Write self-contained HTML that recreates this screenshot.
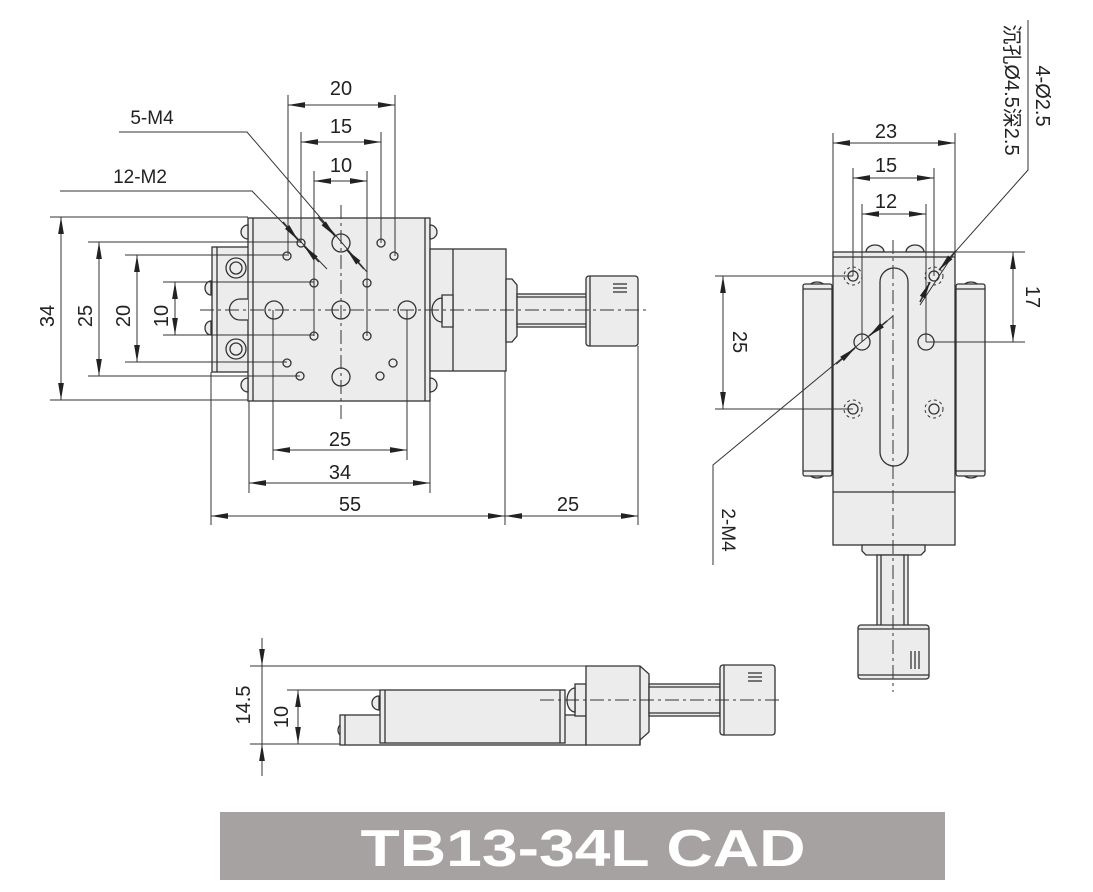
<!DOCTYPE html>
<html><head><meta charset="utf-8"><style>
html,body{margin:0;padding:0;background:#fff;}
svg{display:block;}
text{font-family:"Liberation Sans","Noto Sans CJK SC",sans-serif;fill:#222;}
</style></head><body>
<svg width="1093" height="892" viewBox="0 0 1093 892" xmlns="http://www.w3.org/2000/svg">
<defs>
<marker id="a" viewBox="0 0 16 6" refX="16" refY="3" markerWidth="17" markerHeight="7" markerUnits="userSpaceOnUse" orient="auto-start-reverse"><path d="M0,0.3 L16,3 L0,5.7 z" fill="#222"/></marker>
</defs>
<g stroke="#333" stroke-width="1.3" fill="#ececec">
<!-- ===== FRONT VIEW ===== -->
<rect x="212" y="247" width="38" height="125"/>
<line x1="217" y1="247" x2="217" y2="372" fill="none"/>
<path d="M211,281 a6,7 0 0 0 0,14 z M211,321 a6,7 0 0 0 0,14 z"/>
<rect x="248" y="218" width="182" height="183"/>
<line x1="253" y1="218" x2="253" y2="401"/><line x1="425" y1="218" x2="425" y2="401"/>
<path d="M248,225 a7,7 0 0 0 0,14 z M248,378 a7,7 0 0 0 0,14 z M430,225 a7,7 0 0 1 0,14 z M430,378 a7,7 0 0 1 0,14 z"/>
<circle cx="236" cy="268" r="10"/><circle cx="236" cy="268" r="6"/>
<circle cx="236" cy="349" r="10"/><circle cx="236" cy="349" r="6"/>
<path d="M248,299 L240,299 a10,10 0 0 0 0,21 L248,320" fill="#ececec"/>
<rect x="430" y="249" width="76" height="122"/>
<line x1="453" y1="249" x2="453" y2="371"/>
<path d="M442,295 h11 v32 h-11 z"/>
<path d="M442,298 a10,12 0 0 0 0,24 z"/>
<path d="M506,279 h6 l5,6 v51 l-5,6 h-6 z"/>
<rect x="517" y="294" width="70" height="33"/>
<line x1="517" y1="297" x2="587" y2="297"/><line x1="517" y1="324" x2="587" y2="324"/>
<rect x="586" y="276" width="52" height="70" rx="3"/>
<line x1="590" y1="276" x2="590" y2="346"/>
<line x1="613" y1="284" x2="627" y2="284" fill="none"/><line x1="613" y1="288" x2="627" y2="288" fill="none"/><line x1="613" y1="292" x2="627" y2="292" fill="none"/>
<g fill="none">
<circle cx="341" cy="243" r="9"/><circle cx="341" cy="310" r="9"/><circle cx="341" cy="377" r="9"/>
<circle cx="274" cy="310" r="9"/><circle cx="407" cy="310" r="9"/>
<circle cx="301" cy="243" r="4"/><circle cx="287" cy="256" r="4"/><circle cx="314" cy="283" r="4"/><circle cx="367" cy="283" r="4"/>
<circle cx="381" cy="243" r="4"/><circle cx="394" cy="256" r="4"/><circle cx="314" cy="336" r="4"/><circle cx="367" cy="336" r="4"/>
<circle cx="287" cy="363" r="4"/><circle cx="300" cy="376" r="4"/><circle cx="380" cy="376" r="4"/><circle cx="393" cy="363" r="4"/>
</g>
</g>
<g stroke="#333" stroke-width="1" fill="none">
<line x1="341" y1="205" x2="341" y2="420" stroke-dasharray="14,4,3,4"/>
<line x1="200" y1="310" x2="650" y2="310" stroke-dasharray="14,4,3,4"/>
<line x1="288" y1="95" x2="288" y2="256"/><line x1="395" y1="95" x2="395" y2="256"/>
<line x1="301" y1="132" x2="301" y2="243"/><line x1="381" y1="132" x2="381" y2="243"/>
<line x1="314" y1="171" x2="314" y2="336"/><line x1="367" y1="171" x2="367" y2="336"/>
<line x1="288" y1="105" x2="395" y2="105" marker-start="url(#a)" marker-end="url(#a)"/>
<line x1="301" y1="142" x2="381" y2="142" marker-start="url(#a)" marker-end="url(#a)"/>
<line x1="314" y1="181" x2="367" y2="181" marker-start="url(#a)" marker-end="url(#a)"/>
<polyline points="119,132 247,132 367,272"/>
<polyline points="60,191 252,191 327,269"/>
<line x1="318" y1="217" x2="335" y2="236" marker-end="url(#a)" stroke-width="1.6"/>
<line x1="364" y1="269" x2="347" y2="250" marker-end="url(#a)" stroke-width="1.6"/>
<line x1="283" y1="222" x2="298" y2="240" marker-end="url(#a)" stroke-width="1.6"/>
<line x1="319" y1="262" x2="304" y2="246" marker-end="url(#a)" stroke-width="1.6"/>
<line x1="50" y1="217" x2="248" y2="217"/><line x1="50" y1="400" x2="248" y2="400"/>
<line x1="88" y1="242" x2="301" y2="242"/><line x1="88" y1="376" x2="300" y2="376"/>
<line x1="125" y1="255" x2="287" y2="255"/><line x1="125" y1="362" x2="287" y2="362"/>
<line x1="163" y1="282" x2="314" y2="282"/><line x1="163" y1="335" x2="314" y2="335"/>
<line x1="61" y1="217" x2="61" y2="400" marker-start="url(#a)" marker-end="url(#a)"/>
<line x1="99" y1="242" x2="99" y2="376" marker-start="url(#a)" marker-end="url(#a)"/>
<line x1="137" y1="255" x2="137" y2="362" marker-start="url(#a)" marker-end="url(#a)"/>
<line x1="175" y1="282" x2="175" y2="335" marker-start="url(#a)" marker-end="url(#a)"/>
<line x1="273" y1="310" x2="273" y2="460"/><line x1="407" y1="310" x2="407" y2="460"/>
<line x1="249" y1="401" x2="249" y2="493"/><line x1="430" y1="401" x2="430" y2="493"/>
<line x1="211" y1="372" x2="211" y2="525"/><line x1="505" y1="371" x2="505" y2="525"/><line x1="638" y1="346" x2="638" y2="525"/>
<line x1="273" y1="450" x2="407" y2="450" marker-start="url(#a)" marker-end="url(#a)"/>
<line x1="249" y1="483" x2="430" y2="483" marker-start="url(#a)" marker-end="url(#a)"/>
<line x1="211" y1="516" x2="505" y2="516" marker-start="url(#a)" marker-end="url(#a)"/>
<line x1="505" y1="516" x2="638" y2="516" marker-start="url(#a)" marker-end="url(#a)"/>
</g>
<g font-size="20" text-anchor="middle">
<text x="341" y="95">20</text><text x="341" y="133">15</text><text x="341" y="172">10</text>
<text x="152" y="124" font-size="19">5-M4</text><text x="140" y="183" font-size="19">12-M2</text>
<text x="340" y="446">25</text><text x="340" y="479">34</text><text x="350" y="511">55</text><text x="568" y="511">25</text>
<text transform="translate(54,316) rotate(-90)">34</text>
<text transform="translate(92,316) rotate(-90)">25</text>
<text transform="translate(130,316) rotate(-90)">20</text>
<text transform="translate(168,316) rotate(-90)">10</text>
</g>

<!-- ===== RIGHT VIEW ===== -->
<g stroke="#333" stroke-width="1.3" fill="#ececec">
<path d="M866,252 a9,7 0 0 1 18,0 z M906,252 a9,7 0 0 1 18,0 z"/>
<path d="M808,289 a9,7 0 0 1 18,0 z M962,289 a9,7 0 0 1 18,0 z M808,471 a9,7 0 0 0 18,0 z M962,471 a9,7 0 0 0 18,0 z"/>
<rect x="803" y="284" width="29" height="192" rx="2"/>
<line x1="803" y1="289" x2="832" y2="289"/><line x1="803" y1="471" x2="832" y2="471"/>
<rect x="956" y="284" width="29" height="192" rx="2"/>
<line x1="956" y1="289" x2="985" y2="289"/><line x1="956" y1="471" x2="985" y2="471"/>
<rect x="833" y="252" width="122" height="293"/>
<line x1="833" y1="257" x2="955" y2="257"/>
<line x1="833" y1="492" x2="955" y2="492"/>
<rect x="880" y="268" width="28" height="198" rx="14"/>
<path d="M862,545 h63 v6 l-4,4 h-55 l-4,-4 z"/>
<rect x="877" y="555" width="31" height="71"/>
<line x1="881" y1="555" x2="881" y2="626"/><line x1="904" y1="555" x2="904" y2="626"/>
<rect x="858" y="625" width="71" height="54" rx="3"/>
<line x1="858" y1="629" x2="929" y2="629"/><line x1="858" y1="675" x2="929" y2="675"/>
<line x1="911" y1="651" x2="911" y2="669"/><line x1="915" y1="651" x2="915" y2="669"/><line x1="919" y1="651" x2="919" y2="669"/>
<g fill="none">
<circle cx="853" cy="276" r="5"/><circle cx="934" cy="276" r="5"/><circle cx="853" cy="409" r="5"/><circle cx="934" cy="409" r="5"/>
<g stroke-dasharray="3,3" stroke-width="1"><circle cx="853" cy="276" r="9"/><circle cx="934" cy="276" r="9"/><circle cx="853" cy="409" r="9"/><circle cx="934" cy="409" r="9"/></g>
<circle cx="862" cy="342" r="8"/><circle cx="926" cy="342" r="8"/>
</g>
</g>
<g stroke="#333" stroke-width="1" fill="none">
<line x1="893" y1="240" x2="893" y2="692" stroke-dasharray="14,4,3,4"/>
<line x1="833" y1="133" x2="833" y2="252"/><line x1="955" y1="133" x2="955" y2="252"/>
<line x1="853" y1="168" x2="853" y2="276"/><line x1="934" y1="168" x2="934" y2="276"/>
<line x1="862" y1="204" x2="862" y2="342"/><line x1="926" y1="204" x2="926" y2="342"/>
<line x1="833" y1="143" x2="955" y2="143" marker-start="url(#a)" marker-end="url(#a)"/>
<line x1="853" y1="178" x2="934" y2="178" marker-start="url(#a)" marker-end="url(#a)"/>
<line x1="862" y1="214" x2="926" y2="214" marker-start="url(#a)" marker-end="url(#a)"/>
<line x1="955" y1="252" x2="1025" y2="252"/><line x1="926" y1="342" x2="1025" y2="342"/>
<line x1="1013" y1="252" x2="1013" y2="342" marker-start="url(#a)" marker-end="url(#a)"/>
<line x1="715" y1="276" x2="853" y2="276"/><line x1="715" y1="409" x2="853" y2="409"/>
<line x1="723" y1="276" x2="723" y2="409" marker-start="url(#a)" marker-end="url(#a)"/>
<polyline points="713,565 713,465 893,316"/>
<polyline points="1028,20 1028,170 955,252 920,305"/>
<line x1="836" y1="364" x2="855" y2="348" marker-end="url(#a)" stroke-width="1.6"/>
<line x1="887" y1="321" x2="869" y2="336" marker-end="url(#a)" stroke-width="1.6"/>
<line x1="955" y1="252" x2="939" y2="270" marker-end="url(#a)" stroke-width="1.6"/>
<line x1="920" y1="302" x2="930" y2="282" marker-end="url(#a)" stroke-width="1.6"/>
</g>
<g font-size="20" text-anchor="middle">
<text x="886" y="138">23</text><text x="886" y="172">15</text><text x="886" y="208">12</text>
<text transform="translate(1026,297) rotate(90)">17</text>
<text transform="translate(733,342) rotate(90)">25</text>
<text transform="translate(722,530) rotate(90)" font-size="19">2-M4</text>
<text transform="translate(1036,96) rotate(90)" font-size="20">4-Ø2.5</text>
<text transform="translate(1005,90) rotate(90)" font-size="20">沉孔Ø4.5深2.5</text>
</g>

<!-- ===== SIDE VIEW ===== -->
<g stroke="#333" stroke-width="1.3" fill="#ececec">
<path d="M345,723 a7,7 0 0 0 0,14 z"/>
<path d="M379,696 a7,7 0 0 0 0,14 z"/>
<rect x="340" y="715" width="246" height="30"/>
<line x1="345" y1="715" x2="345" y2="745"/>
<rect x="380" y="690" width="185" height="53"/>
<line x1="385" y1="690" x2="385" y2="743"/><line x1="560" y1="690" x2="560" y2="743"/>
<rect x="575" y="684" width="11" height="32"/>
<path d="M575,688 a8,12 0 0 0 0,24 z"/>
<path d="M586,666 h54 l9,8 v58 l-9,8 v5 h-54 z"/>
<line x1="640" y1="666" x2="640" y2="745"/>
<rect x="649" y="684" width="71" height="32"/>
<line x1="649" y1="687" x2="720" y2="687"/><line x1="649" y1="713" x2="720" y2="713"/>
<rect x="720" y="665" width="55" height="70" rx="3"/>
<line x1="724" y1="665" x2="724" y2="735"/>
<line x1="748" y1="673" x2="762" y2="673"/><line x1="748" y1="677" x2="762" y2="677"/><line x1="748" y1="681" x2="762" y2="681"/>
</g>
<g stroke="#333" stroke-width="1" fill="none">
<line x1="540" y1="700" x2="780" y2="700" stroke-dasharray="14,4,3,4"/>
<line x1="250" y1="666" x2="586" y2="666"/><line x1="250" y1="744" x2="340" y2="744"/>
<line x1="287" y1="690" x2="380" y2="690"/>
<line x1="262" y1="638" x2="262" y2="666" marker-end="url(#a)"/>
<line x1="262" y1="666" x2="262" y2="744"/>
<line x1="262" y1="776" x2="262" y2="744" marker-end="url(#a)"/>
<line x1="298" y1="690" x2="298" y2="744" marker-start="url(#a)" marker-end="url(#a)"/>
</g>
<g font-size="20" text-anchor="middle">
<text transform="translate(250,705) rotate(-90)">14.5</text>
<text transform="translate(288,717) rotate(-90)">10</text>
</g>

<rect x="220" y="812" width="725" height="68" fill="#a6a2a2"/>
<text x="583" y="866" text-anchor="middle" font-size="52" font-weight="bold" fill="#fff" style="fill:#fff" textLength="445" lengthAdjust="spacingAndGlyphs">TB13-34L CAD</text>
</svg>
</body></html>
